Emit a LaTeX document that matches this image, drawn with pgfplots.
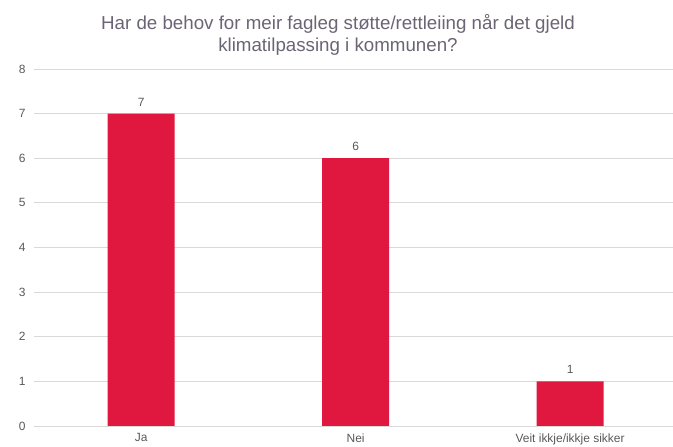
\documentclass[border=0pt]{standalone}
\usepackage{fontspec}
\setmainfont{Liberation Sans}
\usepackage{pgfplots}
\pgfplotsset{compat=1.18}
\definecolor{barred}{HTML}{E0173F}
\definecolor{gridgray}{HTML}{D9D9D9}
\definecolor{txtgray}{HTML}{595959}
\definecolor{titlegray}{HTML}{6B6474}

\begin{document}
\begin{tikzpicture}
\useasboundingbox (0,0) rectangle (673bp,447bp);
\node[text=titlegray, font=\fontsize{18.8}{22}\selectfont, align=center] at (338bp,412bp)
  {Har de behov for meir fagleg støtte/rettleiing når det gjeld\\klimatilpassing i kommunen?};
\begin{axis}[
    at={(34bp,21bp)}, anchor=south west,
    scale only axis,
    width=639bp, height=357bp,
    xmin=-0.5, xmax=2.48,
    ymin=0, ymax=8,
    ytick={0,...,8},
    xtick=data,
    xticklabels={Ja,Nei,Veit ikkje/ikkje sikker},
    axis line style={draw=none},
    major tick length=0pt,
    ymajorgrids,
    grid style={gridgray, line width=0.75pt},
    ticklabel style={text=txtgray, font=\fontsize{12}{14}\selectfont},
    /pgf/number format/assume math mode=true,
    yticklabel style={xshift=-5bp},
    xticklabel style={yshift=-4bp},
    clip=false,
]
\addplot[ybar, bar width=67bp, fill=barred, draw=none,
    nodes near coords,
    every node near coord/.append style={text=txtgray, font=\fontsize{12}{14}\selectfont, yshift=4bp}]
  coordinates {(0,7) (1,6) (2,1)};
\end{axis}
\end{tikzpicture}
\end{document}
